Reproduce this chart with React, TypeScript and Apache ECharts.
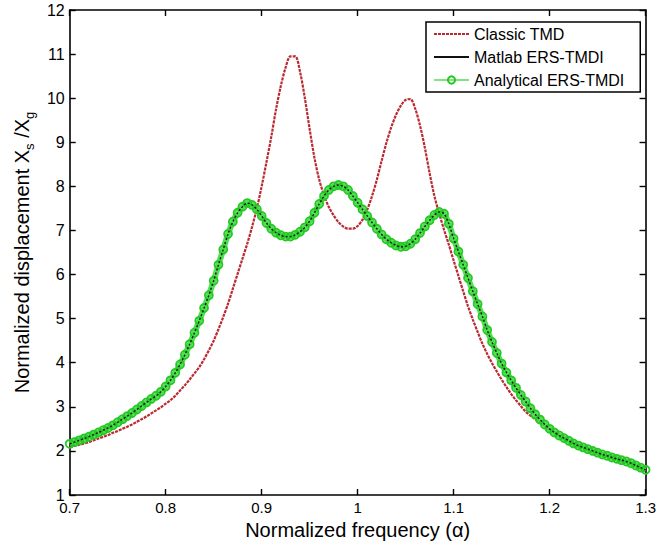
import React, { useEffect, useRef } from "react";
import * as echarts from "echarts";

// Normalized frequency α (sampled every 0.005 from 0.7 to 1.3)
const alpha = [
  0.7, 0.705, 0.71, 0.715, 0.72, 0.725, 0.73, 0.735, 0.74, 0.745,
  0.75, 0.755, 0.76, 0.765, 0.77, 0.775, 0.78, 0.785, 0.79, 0.795,
  0.8, 0.805, 0.81, 0.815, 0.82, 0.825, 0.83, 0.835, 0.84, 0.845,
  0.85, 0.855, 0.86, 0.865, 0.87, 0.875, 0.88, 0.885, 0.89, 0.895,
  0.9, 0.905, 0.91, 0.915, 0.92, 0.925, 0.93, 0.935, 0.94, 0.945,
  0.95, 0.955, 0.96, 0.965, 0.97, 0.975, 0.98, 0.985, 0.99, 0.995,
  1.0, 1.005, 1.01, 1.015, 1.02, 1.025, 1.03, 1.035, 1.04, 1.045,
  1.05, 1.055, 1.06, 1.065, 1.07, 1.075, 1.08, 1.085, 1.09, 1.095,
  1.1, 1.105, 1.11, 1.115, 1.12, 1.125, 1.13, 1.135, 1.14, 1.145,
  1.15, 1.155, 1.16, 1.165, 1.17, 1.175, 1.18, 1.185, 1.19, 1.195,
  1.2, 1.205, 1.21, 1.215, 1.22, 1.225, 1.23, 1.235, 1.24, 1.245,
  1.25, 1.255, 1.26, 1.265, 1.27, 1.275, 1.28, 1.285, 1.29, 1.295,
  1.3,
];

// Classic TMD response |Xs/Xg|
const classicTmd = [
  2.08, 2.11, 2.14, 2.17, 2.2, 2.24, 2.28, 2.32, 2.36, 2.41,
  2.45, 2.5, 2.55, 2.6, 2.66, 2.72, 2.78, 2.85, 2.92, 2.99,
  3.07, 3.15, 3.25, 3.37, 3.49, 3.62, 3.76, 3.9, 4.08, 4.28,
  4.5, 4.76, 5.04, 5.34, 5.68, 6.02, 6.36, 6.7, 7.08, 7.5,
  8.0, 8.55, 9.12, 9.75, 10.28, 10.7, 10.95, 10.95, 10.6, 10.0,
  9.3, 8.65, 8.15, 7.8, 7.53, 7.34, 7.19, 7.09, 7.04, 7.04,
  7.1, 7.24, 7.47, 7.78, 8.15, 8.58, 8.99, 9.34, 9.62, 9.83,
  9.96, 9.98, 9.76, 9.38, 8.88, 8.3, 7.78, 7.38, 7.02, 6.68,
  6.32, 5.97, 5.62, 5.28, 4.98, 4.7, 4.43, 4.2, 3.99, 3.8,
  3.62, 3.45, 3.29, 3.15, 3.02, 2.89, 2.8, 2.72, 2.64, 2.57,
  2.48, 2.4, 2.33, 2.27, 2.21, 2.15, 2.1, 2.06, 2.02, 1.98,
  1.94, 1.9, 1.87, 1.83, 1.8, 1.77, 1.74, 1.7, 1.65, 1.6,
  1.54,
];

// ERS-TMDI response |Xs/Xg| (numerical and analytical solutions coincide)
const ersTmdi = [
  2.16, 2.2, 2.24, 2.28, 2.32, 2.37, 2.42, 2.47, 2.52, 2.58,
  2.65, 2.72, 2.79, 2.86, 2.94, 3.02, 3.1, 3.18, 3.25, 3.34,
  3.46, 3.6, 3.77, 3.96, 4.18, 4.42, 4.68, 4.95, 5.24, 5.53,
  5.86, 6.22, 6.57, 6.92, 7.2, 7.4, 7.54, 7.62, 7.58, 7.48,
  7.33, 7.17, 7.04, 6.95, 6.89, 6.86, 6.86, 6.9, 6.97, 7.07,
  7.21, 7.4, 7.6, 7.78, 7.92, 8.0, 8.03, 8.0, 7.92, 7.78,
  7.63, 7.48, 7.33, 7.18, 7.04, 6.91, 6.8, 6.72, 6.66, 6.63,
  6.64, 6.7, 6.8, 6.94, 7.09, 7.23, 7.35, 7.42, 7.38, 7.15,
  6.82, 6.52, 6.22, 5.92, 5.62, 5.33, 5.05, 4.74, 4.47, 4.22,
  3.98, 3.78, 3.6, 3.43, 3.27, 3.12, 2.97, 2.83, 2.71, 2.6,
  2.5, 2.42, 2.35, 2.29, 2.23, 2.17, 2.12, 2.08, 2.04, 2.0,
  1.96, 1.92, 1.89, 1.85, 1.82, 1.79, 1.76, 1.72, 1.67, 1.62,
  1.57,
];

const seriesNames = ["Classic TMD", "Matlab ERS-TMDI", "Analytical ERS-TMDI"];

const FONT = "'Liberation Sans', Arial, Helvetica, sans-serif";
const BLACK = "#000";
const RED = "#b92a33";
const GREEN = "#3fdc3f";
const GREEN_EDGE = "#24c924";

const pairs = (ys: number[]) => alpha.map((a, i) => [a, ys[i]]);

const frameAxis = (extra: any) => ({
  type: "value",
  axisLine: { show: true, onZero: false, lineStyle: { color: BLACK, width: 1.6 } },
  axisTick: { show: true, inside: true, length: 6, lineStyle: { color: BLACK, width: 1.4 } },
  splitLine: { show: false },
  ...extra,
});

export default function App() {
  const ref = useRef<HTMLDivElement>(null);

  useEffect(() => {
    if (!ref.current) return;
    const chart = echarts.init(ref.current, null, { renderer: "svg" });
    const tickFmt = (v: number) => String(Math.round(v * 10) / 10);

    chart.setOption({
      animation: false,
      backgroundColor: "#fff",
      textStyle: { fontFamily: FONT },
      grid: { left: 69, right: 9, top: 10, bottom: 51 },
      legend: {
        left: 426,
        top: 22,
        orient: "vertical",
        data: [
          { name: seriesNames[0], itemStyle: { opacity: 0 } },
          { name: seriesNames[1], itemStyle: { opacity: 0 }, lineStyle: { type: "solid", width: 2 } },
          { name: seriesNames[2], lineStyle: { width: 1.5, color: GREEN } },
        ],
        itemWidth: 35,
        itemHeight: 9,
        itemGap: 7,
        padding: [4, 16, 4, 7],
        backgroundColor: "#fff",
        borderColor: BLACK,
        borderWidth: 1.5,
        borderRadius: 0,
        textStyle: { color: BLACK, fontSize: 16, fontFamily: FONT },
      },
      xAxis: [
        frameAxis({
          position: "bottom",
          min: 0.7,
          max: 1.3,
          interval: 0.1,
          name: "Normalized frequency (α)",
          nameLocation: "middle",
          nameGap: 25,
          nameTextStyle: { color: BLACK, fontSize: 20, fontFamily: FONT },
          axisLabel: { color: BLACK, fontSize: 15, fontFamily: FONT, margin: 5, formatter: tickFmt },
        }),
        frameAxis({
          position: "top",
          min: 0.7,
          max: 1.3,
          interval: 0.1,
          axisLabel: { show: false },
        }),
      ],
      yAxis: [
        frameAxis({
          position: "left",
          min: 1,
          max: 12,
          interval: 1,
          name: "Normalized displacement X{s|s} /X{s|g}",
          nameLocation: "middle",
          nameGap: 32,
          nameTextStyle: {
            color: BLACK,
            fontSize: 20,
            fontFamily: FONT,
            lineHeight: 28,
            rich: {
              s: { fontSize: 13, lineHeight: 12, verticalAlign: "bottom", color: BLACK, fontFamily: FONT },
            },
          },
          axisLabel: { color: BLACK, fontSize: 16, fontFamily: FONT, margin: 5 },
        }),
        frameAxis({
          position: "right",
          min: 1,
          max: 12,
          interval: 1,
          axisLabel: { show: false },
        }),
      ],
      series: [
        {
          name: seriesNames[0],
          type: "line",
          data: pairs(classicTmd),
          smooth: 0.3,
          showSymbol: false,
          symbol: "none",
          lineStyle: { color: RED, width: 2.2, type: [3, 1] },
          itemStyle: { color: RED },
          z: 2,
        },
        {
          name: seriesNames[1],
          type: "line",
          data: pairs(ersTmdi),
          smooth: 0.3,
          showSymbol: false,
          symbol: "none",
          lineStyle: { color: "#111", width: 1.4, type: [2, 2] },
          itemStyle: { color: BLACK },
          z: 4,
        },
        {
          name: seriesNames[2],
          type: "line",
          data: pairs(ersTmdi),
          smooth: 0.3,
          showSymbol: true,
          showAllSymbol: true,
          symbol: "circle",
          symbolSize: 8,
          lineStyle: { color: GREEN, width: 6, opacity: 0.9 },
          itemStyle: { color: "rgba(0,0,0,0)", borderColor: GREEN_EDGE, borderWidth: 1.8 },
          z: 3,
        },
      ],
    });

    return () => chart.dispose();
  }, []);

  return (
    <div
      ref={ref}
      style={{ position: "fixed", left: 0, top: 0, width: 659, height: 546, background: "#fff" }}
    />
  );
}
